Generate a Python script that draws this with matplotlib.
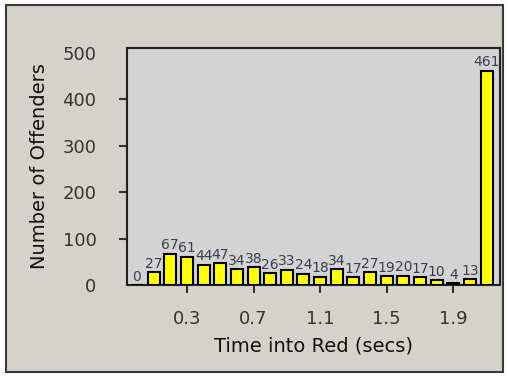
import matplotlib
matplotlib.use('Agg')
import matplotlib.pyplot as plt
from matplotlib.patches import Rectangle

# time into red bins (secs) and counts
bins = [0.0, 0.1, 0.2, 0.3, 0.4, 0.5, 0.6, 0.7, 0.8, 0.9, 1.0,
        1.1, 1.2, 1.3, 1.4, 1.5, 1.6, 1.7, 1.8, 1.9, 2.0, 2.1]
offenders = [0, 27, 67, 61, 44, 47, 34, 38, 26, 33, 24,
             18, 34, 17, 27, 19, 20, 17, 10, 4, 13, 461]
xticks = [0.3, 0.7, 1.1, 1.5, 1.9]
yticks = [0, 100, 200, 300, 400, 500]

fig = plt.figure(figsize=(5.08, 3.77), dpi=100)
fig.patch.set_facecolor('white')
# windows-style panel with dark border
fig.patches.append(Rectangle((0.012, 0.012), 0.978, 0.975, transform=fig.transFigure,
                             facecolor='#d5d2cc', edgecolor='#3a3a3a', linewidth=1.5,
                             zorder=-10))

ax = fig.add_axes([0.25, 0.244, 0.734, 0.629])
ax.set_facecolor('#d3d3d3')

ax.bar(bins, offenders, width=0.072, color='#ffff00', edgecolor='black', linewidth=1.5, zorder=3)
for x, v in zip(bins, offenders):
    ax.text(x, v + 3, str(v), ha='center', va='bottom', fontsize=10,
            color='#3c3c4c', clip_on=False, zorder=4)

ax.set_xlim(-0.06, 2.18)
ax.set_ylim(0, 510)
ax.set_xticks(xticks)
ax.set_xticklabels([str(t) for t in xticks])
ax.set_yticks(yticks)
ax.set_yticklabels([str(t) for t in yticks])
for i in (0, len(yticks) - 1):
    ax.yaxis.get_major_ticks()[i].tick1line.set_visible(False)

ax.tick_params(axis='y', direction='out', length=6, width=1.5, pad=16, labelsize=13, colors='#333333')
ax.tick_params(axis='x', direction='out', length=6, width=1.5, pad=12, labelsize=13, colors='#333333')

ax.set_xlabel('Time into Red (secs)', fontsize=14, color='#111111', labelpad=6)
ax.set_ylabel('Number of Offenders', fontsize=14, color='#111111', labelpad=10)

for s in ax.spines.values():
    s.set_color('#222222')
    s.set_linewidth(1.5)

fig.savefig('out.png', dpi=100, facecolor=fig.get_facecolor())
